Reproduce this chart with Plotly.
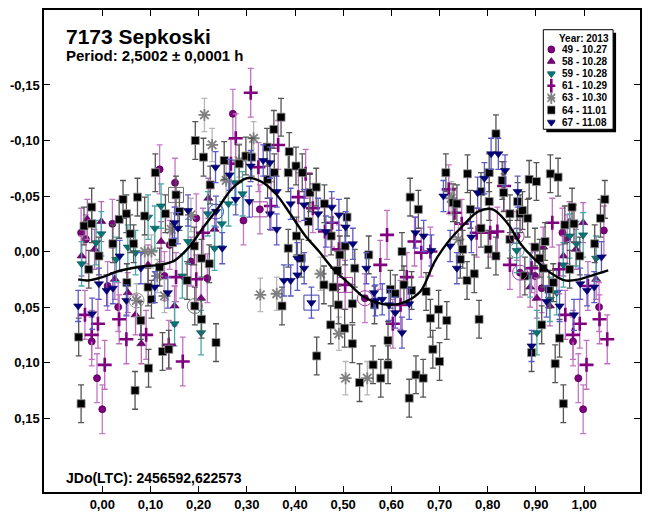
import plotly.graph_objects as go

# ---------------- data (phase, relative magnitude) ----------------
phase_49 = [-0.044, -0.034, 0.021, 0.119, 0.151, 0.195, 0.271, 0.293, 0.327, 0.011, 0.033, -0.022, -0.011, 0.000,
            0.129, 0.140, 0.184, 0.218, 0.545, 0.860, 0.867, 0.898, 0.912, 0.955, 0.965, 0.977, 0.988, 0.998,
            1.031, 1.041]
mag_49 = [-0.017, -0.011, -0.025, -0.074, -0.062, -0.030, -0.124, -0.028, -0.038, 0.031, 0.050, 0.081, 0.114, 0.142,
          0.022, -0.006, 0.009, 0.024, 0.042, -0.014, 0.019, 0.022, 0.033, -0.017, -0.011, 0.081, 0.114, 0.142,
          0.050, -0.019]

phase_58 = [-0.043, -0.031, -0.016, -0.002, 0.026, 0.053, 0.069, 0.081, 0.095, 0.122, 0.150, 0.205, 0.220, 0.233,
            0.888, 0.902, 0.915, 0.929, 0.957, 0.970, 0.983, 0.998, 1.025]
mag_58 = [0.004, -0.029, -0.002, -0.027, 0.025, 0.037, 0.057, 0.083, 0.012, -0.009, 0.049, 0.042, -0.048, -0.020,
          0.032, 0.042, -0.004, 0.049, 0.004, -0.027, -0.002, -0.026, 0.025]

phase_59 = [-0.043, -0.013, -0.002, 0.029, 0.053, 0.069, 0.095, 0.109, 0.122, 0.150, 0.166, 0.178, 0.205, 0.219,
            0.233, 0.248, 0.262, 0.275, 0.291, 0.860, 0.888, 0.902, 0.929, 0.943, 0.957, 0.970, 0.984, 0.998, 1.025]
mag_59 = [0.011, -0.008, -0.016, 0.007, -0.004, 0.001, -0.031, -0.021, -0.041, 0.065, 0.022, -0.009, 0.073, -0.034,
          -0.003, -0.025, -0.043, -0.062, -0.052, -0.001, 0.021, 0.073, 0.043, 0.037, 0.012, -0.014, -0.007, -0.015,
          0.006]

phase_61 = [-0.036, -0.022, -0.009, 0.005, 0.035, 0.050, 0.091, 0.138, 0.153, 0.167, 0.195, 0.209, 0.267, 0.277,
            0.308, 0.324, 0.350, 0.365, 0.407, 0.422, 0.437, 0.462, 0.477, 0.491, 0.504, 0.577, 0.591, 0.603, 0.619,
            0.632, 0.648, 0.662, 0.681, 0.719, 0.731, 0.746, 0.777, 0.805, 0.820, 0.834, 0.846, 0.891, 0.934, 0.948,
            0.961, 0.977, 0.991, 1.005, 1.008, 1.032, 1.048]
mag_61 = [0.057, 0.075, 0.065, 0.102, 0.061, 0.079, 0.075, 0.084, 0.023, 0.099, 0.025, -0.017, -0.079, -0.102,
          -0.143, -0.076, -0.041, -0.096, -0.049, -0.070, -0.039, -0.018, -0.026, -0.002, 0.030, 0.012, -0.015, 0.065,
          0.048, 0.023, -0.009, 0.001, 0.000, -0.056, -0.035, -0.025, -0.017, -0.017, -0.018, -0.059, 0.012, 0.015,
          -0.026, 0.016, 0.057, 0.075, 0.065, 0.102, 0.031, 0.061, 0.079]

phase_63 = [0.071, 0.088, 0.102, 0.114, 0.129, 0.143, 0.184, 0.212, 0.228, 0.257, 0.284, 0.314, 0.328, 0.362,
            0.453, 0.491, 0.505, 0.550, 0.724, 0.739]
mag_63 = [0.044, 0.000, 0.000, 0.022, 0.040, -0.020, -0.033, -0.123, -0.096, -0.064, -0.082, -0.102, 0.039, 0.038,
          0.020, 0.074, 0.114, 0.114, -0.048, -0.011]

phase_64 = [-0.049, -0.044, -0.038, -0.028, -0.022, -0.022, -0.007, 0.022, 0.035, 0.043, 0.050, 0.051, 0.058, 0.065,
            0.068, 0.073, 0.080, 0.088, 0.095, 0.096, 0.102, 0.110, 0.119, 0.125, 0.131, 0.138, 0.146, 0.153, 0.160,
            0.176, 0.191, 0.192, 0.193, 0.206, 0.206, 0.210, 0.222, 0.224, 0.236, 0.253, 0.284, 0.298, 0.310, 0.342,
            0.343, 0.356, 0.357, 0.371, 0.373, 0.386, 0.386, 0.388, 0.402, 0.403, 0.413, 0.415, 0.428, 0.431, 0.444,
            0.445, 0.460, 0.461, 0.474, 0.475, 0.479, 0.488, 0.490, 0.493, 0.503, 0.504, 0.508, 0.519, 0.519, 0.524,
            0.534, 0.553, 0.562, 0.565, 0.578, 0.593, 0.593, 0.598, 0.608, 0.622, 0.626, 0.637, 0.639, 0.642, 0.651,
            0.656, 0.666, 0.672, 0.681, 0.686, 0.698, 0.700, 0.713, 0.715, 0.728, 0.736, 0.743, 0.748, 0.757, 0.758,
            0.764, 0.772, 0.782, 0.786, 0.786, 0.801, 0.803, 0.803, 0.817, 0.817, 0.830, 0.833, 0.846, 0.846, 0.862,
            0.867, 0.872, 0.877, 0.883, 0.886, 0.891, 0.898, 0.901, 0.908, 0.912, 0.915, 0.919, 0.927, 0.930, 0.936,
            0.940, 0.946, 0.949, 0.957, 0.960, 0.970, 0.975, 0.979, 0.991, 1.022, 1.034, 1.043]
mag_64 = [0.077, 0.137, -0.023, 0.016, -0.040, -0.025, 0.004, -0.007, -0.029, -0.047, -0.034, 0.028, -0.016, -0.007,
          0.125, -0.049, 0.062, -0.032, 0.032, 0.105, 0.043, -0.071, 0.014, 0.090, -0.034, 0.088, -0.008, -0.051,
          -0.036, 0.026, -0.005, 0.049, -0.100, 0.006, 0.061, -0.085, 0.011, -0.060, 0.082, -0.082, -0.079, -0.086,
          -0.085, -0.094, -0.065, -0.110, -0.071, -0.121, 0.049, -0.071, -0.003, -0.090, -0.077, -0.014, 0.006,
          -0.071, -0.027, -0.053, -0.058, 0.094, 0.030, -0.043, 0.066, -0.014, 0.032, 0.017, 0.048, 0.003, 0.069,
          -0.005, -0.031, 0.047, 0.083, 0.015, 0.118, 0.003, 0.102, 0.048, 0.114, 0.102, 0.080, 0.034, 0.038, 0.000,
          0.030, 0.132, -0.049, 0.035, 0.111, -0.038, 0.114, 0.036, 0.060, 0.088, 0.052, 0.099, -0.071, 0.062, -0.044,
          -0.043, 0.007, -0.002, 0.026, -0.070, -0.038, 0.020, 0.061, -0.054, -0.021, -0.002, -0.071, -0.045, -0.106,
          0.004, -0.064, -0.053, -0.034, -0.011, -0.045, -0.034, -0.037, 0.022, -0.030, -0.065, 0.091, -0.004, -0.063,
          0.006, 0.066, 0.015, -0.009, 0.034, -0.070, 0.028, 0.101, -0.067, 0.078, 0.137, -0.024, 0.016, -0.040,
          -0.025, 0.004, -0.007, -0.030, -0.047]

phase_67 = [-0.050, -0.021, -0.007, 0.009, 0.022, 0.036, 0.050, 0.080, 0.109, 0.136, 0.150, 0.157, 0.178, 0.235,
            0.236, 0.249, 0.264, 0.277, 0.305, 0.308, 0.334, 0.348, 0.348, 0.362, 0.362, 0.377, 0.391, 0.391, 0.405,
            0.405, 0.419, 0.419, 0.434, 0.448, 0.464, 0.476, 0.491, 0.505, 0.520, 0.548, 0.564, 0.567, 0.581, 0.595,
            0.608, 0.622, 0.637, 0.650, 0.667, 0.683, 0.708, 0.722, 0.736, 0.766, 0.779, 0.793, 0.807, 0.822, 0.836,
            0.862, 0.891, 0.922, 0.949, 0.979, 0.992, 1.006, 1.021, 1.036]
mag_67 = [0.049, 0.056, 0.029, 0.035, 0.033, 0.004, 0.044, 0.015, 0.032, 0.037, -0.026, -0.021, -0.037, -0.076,
          -0.036, -0.003, -0.069, -0.047, -0.045, -0.077, -0.082, -0.080, -0.034, -0.054, -0.020, 0.026, -0.043,
          0.026, 0.021, 0.006, -0.042, 0.015, 0.046, -0.034, -0.018, -0.040, -0.033, -0.022, -0.007, 0.015, 0.037,
          0.044, 0.043, 0.048, 0.055, 0.073, 0.047, -0.017, -0.014, -0.001, -0.050, -0.005, 0.015, -0.013, -0.053,
          -0.066, -0.088, -0.088, -0.073, -0.054, 0.085, 0.045, 0.049, 0.057, 0.029, 0.035, 0.032, 0.005]

# typical photometric uncertainty of each session
err_49, err_58, err_59, err_61, err_63, err_64, err_67 = 0.022, 0.018, 0.020, 0.022, 0.015, 0.017, 0.014

# Fourier fit curve
fit_phase = [-0.05, -0.03, 0.00, 0.03, 0.06, 0.09, 0.12, 0.15, 0.18, 0.21, 0.24, 0.27, 0.30, 0.33, 0.36, 0.39,
             0.42, 0.45, 0.48, 0.51, 0.54, 0.57, 0.60, 0.63, 0.66, 0.69, 0.72, 0.75, 0.78, 0.81, 0.84, 0.87, 0.90,
             0.93, 0.96, 0.99, 1.02, 1.05]
fit_mag = [0.025, 0.026, 0.023, 0.018, 0.015, 0.013, 0.012, 0.008, -0.004, -0.022, -0.039, -0.057, -0.066, -0.063,
           -0.052, -0.034, -0.015, 0.000, 0.016, 0.028, 0.040, 0.046, 0.048, 0.045, 0.036, 0.009, -0.010, -0.024,
           -0.036, -0.038, -0.026, -0.006, 0.008, 0.019, 0.026, 0.025, 0.021, 0.017]

# highlighted (session start) points
box_phase = [0.153, 0.327, 0.434, 0.504]
box_mag = [-0.051, -0.038, 0.046, 0.030]
box_session = ["64", "49", "67", "61"]
ring_phase = [0.192, 0.545, 0.860, 0.867, 0.860, 0.236, 0.071]
ring_mag = [0.049, 0.042, -0.014, 0.019, -0.001, -0.036, 0.044]
ring_session = ["64", "49", "49", "49", "59", "67", "63"]

legend_labels = ["49 - 10.27", "58 - 10.28", "59 - 10.28", "61 - 10.29", "63 - 10.30", "64 - 11.01", "67 - 11.08"]
x_tickvals = [0.0, 0.1, 0.2, 0.3, 0.4, 0.5, 0.6, 0.7, 0.8, 0.9, 1.0]
x_ticktext = ["0,00", "0,10", "0,20", "0,30", "0,40", "0,50", "0,60", "0,70", "0,80", "0,90", "1,00"]
y_tickvals = [-0.15, -0.10, -0.05, 0.0, 0.05, 0.10, 0.15]
y_ticktext = ["-0,15", "-0,10", "-0,05", "0,00", "0,05", "0,10", "0,15"]

# ---------------- styling ----------------
FONT = "Liberation Sans, Arial, sans-serif"
W, H = 648, 518
L, R, T, B = 44, 6, 10, 19
PW, PH = W - L - R, H - T - B


def px_x(x):
    return (x - L) / PW


def px_y(y):
    return (H - B - y) / PH


series = [
    ("49", phase_49, mag_49, err_49, dict(symbol="circle", size=7, color="#800080",
                                          line=dict(color="#500050", width=0.8)), "#c478c8"),
    ("58", phase_58, mag_58, err_58, dict(symbol="triangle-up", size=8, color="#7a007a",
                                          line=dict(color="#500050", width=0.6)), "#b86ab8"),
    ("59", phase_59, mag_59, err_59, dict(symbol="triangle-down", size=8, color="#007878",
                                          line=dict(color="#004848", width=0.6)), "#48a8a8"),
    ("61", phase_61, mag_61, err_61, dict(symbol="cross-thin", size=10, color="#800080",
                                          line=dict(color="#800080", width=2.6)), "#c070c0"),
    ("63", phase_63, mag_63, err_63, dict(symbol="asterisk", size=10, color="#808080",
                                          line=dict(color="#808080", width=1.8)), "#b8b8b8"),
    ("64", phase_64, mag_64, err_64, dict(symbol="square", size=8, color="#000000",
                                          line=dict(color="#909090", width=0.8)), "#555555"),
    ("67", phase_67, mag_67, err_67, dict(symbol="triangle-down", size=8, color="#000080",
                                          line=dict(color="#000050", width=0.6)), "#5a5ac8"),
]
session_color = {"49": "#a040a0", "59": "#40a0a0", "61": "#a040a0", "63": "#909090", "64": "#707070",
                 "67": "#4040b0"}

fig = go.Figure()
for name, px_, mg, er, mk, ecol in series:
    fig.add_trace(go.Scatter(
        x=px_, y=mg, mode="markers", name=name, marker=mk,
        error_y=dict(type="constant", value=er, color=ecol, thickness=1.3, width=3),
        showlegend=False, hoverinfo="x+y"))

fig.add_trace(go.Scatter(x=box_phase, y=box_mag, mode="markers", showlegend=False, hoverinfo="skip",
                         marker=dict(symbol="square-open", size=15,
                                     color=[session_color[s] for s in box_session], line=dict(width=1))))
fig.add_trace(go.Scatter(x=ring_phase, y=ring_mag, mode="markers", showlegend=False, hoverinfo="skip",
                         marker=dict(symbol="circle-open", size=15,
                                     color=[session_color[s] for s in ring_session], line=dict(width=1))))

fig.add_trace(go.Scatter(x=fit_phase, y=fit_mag, mode="lines", line=dict(color="black", width=2.4, shape="spline"),
                         showlegend=False, hoverinfo="skip"))

# ---------- custom legend ----------
row0, drow = 50, 12.3
for i, (name, px_, mg, er, mk, ecol) in enumerate(series):
    fig.add_trace(go.Scatter(x=[0.5], y=[i], xaxis="x3", yaxis="y3", mode="markers", marker=mk,
                             showlegend=False, hoverinfo="skip"))

shapes = [
    dict(type="rect", xref="paper", yref="paper", x0=px_x(548), x1=px_x(618), y0=px_y(134), y1=px_y(33),
         fillcolor="black", line=dict(width=0), layer="below"),
    dict(type="rect", xref="paper", yref="paper", x0=px_x(545), x1=px_x(615), y0=px_y(131), y1=px_y(30),
         fillcolor="white", line=dict(color="black", width=1), layer="below"),
]

annotations = [
    dict(text="7173 Sepkoski", x=px_x(64), y=px_y(37), xref="paper", yref="paper", xanchor="left",
         yanchor="middle", showarrow=False, font=dict(family=FONT, size=21, color="black", weight="bold")),
    dict(text="Period: 2,5002 ± 0,0001 h", x=px_x(64), y=px_y(56), xref="paper", yref="paper",
         xanchor="left", yanchor="middle", showarrow=False,
         font=dict(family=FONT, size=15, color="black", weight="bold")),
    dict(text="JDo(LTC): 2456592,622573", x=px_x(64), y=px_y(485), xref="paper", yref="paper",
         xanchor="left", yanchor="middle", showarrow=False,
         font=dict(family=FONT, size=14, color="black", weight="bold")),
    dict(text="Year: 2013", x=px_x(613), y=px_y(39), xref="paper", yref="paper", xanchor="right",
         yanchor="middle", showarrow=False, font=dict(family=FONT, size=10, color="black", weight="bold")),
]
for i, lab in enumerate(legend_labels):
    annotations.append(dict(text=lab, x=px_x(562), y=px_y(row0 + i * drow), xref="paper", yref="paper",
                            xanchor="left", yanchor="middle", showarrow=False,
                            font=dict(family=FONT, size=10, color="black", weight="bold")))

axis_common = dict(showgrid=False, zeroline=False, showline=True, linecolor="black", linewidth=1.5,
                   mirror="ticks", ticks="inside", ticklen=6, tickwidth=1, tickcolor="black",
                   tickfont=dict(family=FONT, size=13, color="black", weight="bold"))

fig.update_layout(
    width=W, height=H, autosize=False,
    margin=dict(l=L, r=R, t=T, b=B, pad=0),
    paper_bgcolor="white", plot_bgcolor="rgba(0,0,0,0)",
    showlegend=False,
    xaxis=dict(range=[-0.121, 1.116], tickvals=x_tickvals, ticktext=x_ticktext, **axis_common),
    yaxis=dict(range=[0.2165, -0.2175], tickvals=y_tickvals, ticktext=y_ticktext, **axis_common),
    xaxis3=dict(domain=[px_x(549), px_x(557)], range=[0, 1], visible=False, anchor="y3"),
    yaxis3=dict(domain=[px_y(row0 + 6.5 * drow), px_y(row0 - 0.5 * drow)], range=[6.5, -0.5], visible=False,
                anchor="x3"),
    shapes=shapes,
    annotations=annotations,
)

# remove the browser's default page margin so the figure sits at the window origin
fig.write_html("out.html", config={"displayModeBar": False},
               post_script="document.body.style.margin='0';document.body.style.overflow='hidden';")
